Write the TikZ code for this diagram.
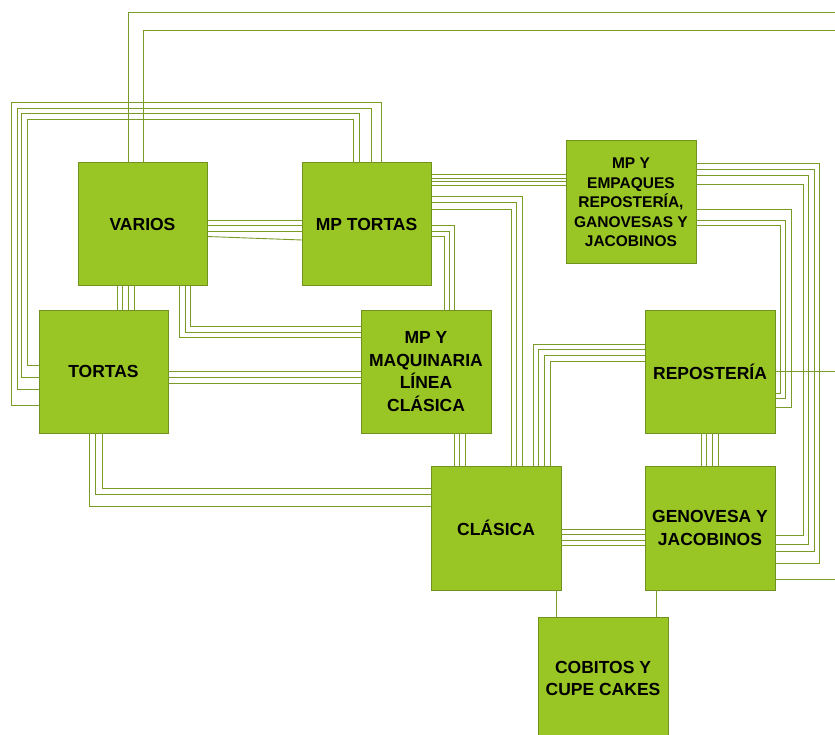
\documentclass[tikz,border=0pt]{standalone}
\usepackage{fontspec}
\setmainfont{Liberation Sans}
\begin{document}
\begin{tikzpicture}[x=1pt,y=-1pt,
  area/.style={draw=boxline, fill=boxfill, line width=1pt, minimum width=129pt,
    minimum height=123pt, inner sep=0pt, outer sep=0pt, align=center,
    font=\bfseries\fontsize{17.5}{22.5}\selectfont},
  smallarea/.style={area, font=\bfseries\fontsize{15.5}{19.5}\selectfont},
  link/.style={draw=wire, line width=0.9pt}]
\definecolor{boxfill}{RGB}{153,198,36}
\definecolor{boxline}{RGB}{112,146,30}
\definecolor{wire}{RGB}{120,156,38}
\useasboundingbox (0,0) rectangle (835,735);

% work areas
\node[area] (varios) at (142.5,224.5) {VARIOS};
\node[area] (mptortas) at (366.5,224.5) {MP TORTAS};
\node[smallarea, minimum width=130pt] (empaques) at (631,202.5) {MP Y\\EMPAQUES\\REPOSTERÍA,\\GANOVESAS Y\\JACOBINOS};
\node[area] (tortas) at (103.5,371.5) {TORTAS};
\node[area, minimum width=130pt] (maquinaria) at (426,371.5) {MP Y\\MAQUINARIA\\LÍNEA\\CLÁSICA};
\node[area, minimum width=130pt] (reposteria) at (710,371.5) {REPOSTERÍA};
\node[area, minimum width=130pt, minimum height=124pt] (clasica) at (496,528) {CLÁSICA};
\node[area, minimum width=130pt, minimum height=124pt] (genovesa) at (710,528) {GENOVESA Y\\JACOBINOS};
\node[area, minimum width=130pt] (cobitos) at (603,678.5) {COBITOS Y\\CUPE CAKES};

% free ends at the right margin
\coordinate (outA) at (835,12);
\coordinate (outB) at (835,30);
\coordinate (outC) at (835,371);
\coordinate (outD) at (835,579);

% VARIOS leaving over the top
\draw[link] (varios.north -| 128,0) |- (outA);
\draw[link] (varios.north -| 143,0) |- (outB);

% MP TORTAS top to TORTAS left, round the far left
\foreach \a/\b/\c/\d in {381/102/11/405, 371/108/17/389, 359/113/21/377, 353/119/27/365}
  \draw[link] (mptortas.north -| \a,0) |- (\c,\b) |- (tortas.west |- 0,\d);

% VARIOS -- MP TORTAS
\foreach \y in {220,225.5,231}
  \draw[link] (varios.east |- 0,\y) -- (mptortas.west |- 0,\y);
\draw[link] (varios.east |- 0,236.5) -- (mptortas.west |- 0,240);

% VARIOS -- TORTAS
\foreach \x in {117,122.5,128,134}
  \draw[link] (varios.south -| \x,0) -- (tortas.north -| \x,0);

% VARIOS bottom to MP Y MAQUINARIA left
\foreach \x/\y in {190.5/326, 185/332, 179.5/337.5}
  \draw[link] (varios.south -| \x,0) |- (maquinaria.west |- 0,\y);

% TORTAS -- MP Y MAQUINARIA
\foreach \y in {371,377,383}
  \draw[link] (tortas.east |- 0,\y) -- (maquinaria.west |- 0,\y);

% MP TORTAS right to MP Y MAQUINARIA top
\foreach \y/\x in {225.5/454, 231/449, 236.5/444}
  \draw[link] (mptortas.east |- 0,\y) -| (maquinaria.north -| \x,0);

% MP TORTAS -- MP Y EMPAQUES
\foreach \y in {174.5,178,181.5,185}
  \draw[link] (mptortas.east |- 0,\y) -- (empaques.west |- 0,\y);

% MP TORTAS right to CLÁSICA top
\foreach \y/\x in {196/522, 202.5/516.5, 209/511}
  \draw[link] (mptortas.east |- 0,\y) -| (clasica.north -| \x,0);

% MP Y MAQUINARIA -- CLÁSICA
\foreach \x in {454,459.5,465}
  \draw[link] (maquinaria.south -| \x,0) -- (clasica.north -| \x,0);

% TORTAS bottom to CLÁSICA left
\foreach \x/\y in {102.5/488, 95.5/494, 89.5/506}
  \draw[link] (tortas.south -| \x,0) |- (clasica.west |- 0,\y);

% REPOSTERÍA left to CLÁSICA top
\foreach \y/\x in {344/533, 349.5/538.5, 355.5/544, 361/550}
  \draw[link] (reposteria.west |- 0,\y) -| (clasica.north -| \x,0);

% CLÁSICA -- GENOVESA Y JACOBINOS
\foreach \y in {529.5,534.5,540,545.5}
  \draw[link] (clasica.east |- 0,\y) -- (genovesa.west |- 0,\y);

% down to COBITOS Y CUPE CAKES
\draw[link] (clasica.south -| 556,0) -- (cobitos.north -| 556,0);
\draw[link] (genovesa.south -| 656,0) -- (cobitos.north -| 656,0);

% MP Y EMPAQUES right to GENOVESA Y JACOBINOS right
\foreach \y/\x/\z in {163.5/819.5/563, 169.5/814/551, 175/808.5/544, 184/803.5/535}
  \draw[link] (empaques.east |- 0,\y) -| (\x,\z) -- (genovesa.east |- 0,\z);

% MP Y EMPAQUES right to REPOSTERÍA right
\foreach \y/\x/\z in {209.5/791/407, 220/785.5/398.5, 225.5/780.5/393}
  \draw[link] (empaques.east |- 0,\y) -| (\x,\z) -- (reposteria.east |- 0,\z);

% REPOSTERÍA -- GENOVESA Y JACOBINOS
\foreach \x in {701,706.5,712,718}
  \draw[link] (reposteria.south -| \x,0) -- (genovesa.north -| \x,0);

% leaving at the right margin
\draw[link] (reposteria.east |- outC) -- (outC);
\draw[link] (genovesa.east |- outD) -- (outD);
\end{tikzpicture}
\end{document}
